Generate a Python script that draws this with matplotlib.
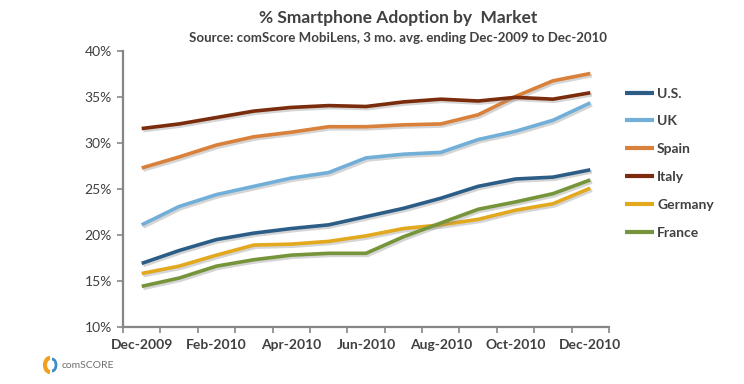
import matplotlib.pyplot as plt
import matplotlib.patheffects as pe
from matplotlib.patches import Arc
import numpy as np

# 3-month average ending each month, Dec-2009 .. Dec-2010
months = ['Dec-2009', 'Jan-2010', 'Feb-2010', 'Mar-2010', 'Apr-2010', 'May-2010', 'Jun-2010',
          'Jul-2010', 'Aug-2010', 'Sep-2010', 'Oct-2010', 'Nov-2010', 'Dec-2010']

us      = [16.9, 18.3, 19.5, 20.2, 20.7, 21.1, 22.0, 22.9, 24.0, 25.3, 26.1, 26.3, 27.1]
uk      = [21.1, 23.1, 24.4, 25.3, 26.2, 26.8, 28.4, 28.8, 29.0, 30.4, 31.3, 32.5, 34.4]
spain   = [27.3, 28.5, 29.8, 30.7, 31.2, 31.8, 31.8, 32.0, 32.1, 33.1, 35.1, 36.8, 37.6]
italy   = [31.6, 32.1, 32.8, 33.5, 33.9, 34.1, 34.0, 34.5, 34.8, 34.6, 35.0, 34.8, 35.5]
germany = [15.8, 16.6, 17.8, 18.9, 19.0, 19.3, 19.9, 20.7, 21.1, 21.7, 22.7, 23.4, 25.1]
france  = [14.4, 15.3, 16.6, 17.3, 17.8, 18.0, 18.0, 19.8, 21.3, 22.8, 23.6, 24.5, 26.0]

series = [('U.S.', us, '#2c5d86'),
          ('UK', uk, '#72afd8'),
          ('Spain', spain, '#d9803a'),
          ('Italy', italy, '#7a2c0c'),
          ('Germany', germany, '#e2a81e'),
          ('France', france, '#76953a')]

plt.rcParams['font.family'] = ['Lato', 'DejaVu Sans']

fig = plt.figure(figsize=(7.44, 3.84), dpi=100)
ax = fig.add_axes([123/744, 57.3/384, 486/744, 275.7/384])

x = np.arange(len(months))
shadow = [pe.SimpleLineShadow(offset=(1.2, -1.5), shadow_color='#888888', alpha=0.35), pe.Normal()]
for name, vals, col in series:
    ax.plot(x, vals, color=col, lw=2.6, solid_capstyle='butt', path_effects=shadow, label=name)

ax.set_xlim(-0.5, len(months) - 0.5)
ax.set_ylim(10, 40.05)
ax.set_yticks(range(10, 41, 5))
ax.set_yticklabels(['%d%%' % v for v in range(10, 41, 5)], fontsize=10, color='#404040')

ax.set_xticks(x[::2])
ax.set_xticklabels(months[::2], fontsize=10, fontweight='bold', color='#404040')
ax.set_xticks(np.arange(-0.5, len(months)), minor=True)
ax.tick_params(axis='x', which='major', length=0, pad=9)
ax.tick_params(axis='x', which='minor', length=4, color='#868686', width=1.2)
ax.tick_params(axis='y', length=4, color='#868686', width=1.2, pad=4)

for s in ['top', 'right']:
    ax.spines[s].set_visible(False)
for s in ['left', 'bottom']:
    ax.spines[s].set_color('#868686')
    ax.spines[s].set_linewidth(1.6)

fig.text(398/744, 1 - 18/384, '% Smartphone Adoption by  Market', ha='center', va='center',
         fontsize=12.5, fontweight='bold', color='#404040')
fig.text(398/744, 1 - 38/384, 'Source: comScore MobiLens, 3 mo. avg. ending Dec-2009 to Dec-2010',
         ha='center', va='center', fontsize=9.5, fontweight='bold', color='#404040')

leg = fig.legend(loc='upper left', bbox_to_anchor=(612/744, 1 - 75/384), frameon=False,
                 handlelength=2.1, handletextpad=0.25, labelspacing=1.14, fontsize=10)
for t in leg.get_texts():
    t.set_fontweight('bold')
    t.set_color('#404040')
for h in leg.legend_handles:
    h.set_path_effects([])
    h.set_linewidth(3)

# comScore logo
fig.patches.append(Arc((50/744, 1 - 365/384), 10/744, 14/384, theta1=90, theta2=270,
                       color='#f0a020', lw=3, transform=fig.transFigure))
fig.patches.append(Arc((52/744, 1 - 365/384), 8/744, 12/384, theta1=-90, theta2=90,
                       color='#3a8fc8', lw=2, transform=fig.transFigure))
fig.text(62/744, 1 - 366/384, 'comSCORE', ha='left', va='center', fontsize=7.5, color='#707070')

plt.savefig('out.png', dpi=100)
plt.close()
